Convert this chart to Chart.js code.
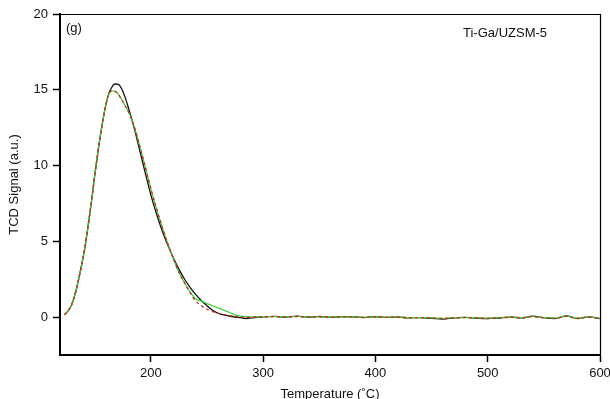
<!DOCTYPE html>
<html>
<head>
<meta charset="utf-8">
<script src="https://cdn.jsdelivr.net/npm/chart.js@4.4.1/dist/chart.umd.min.js"></script>
<style>
  html, body { margin: 0; padding: 0; background: #fff; overflow: hidden; }
  #wrap { width: 610px; height: 399px; position: relative; }
</style>
</head>
<body>
<div id="wrap"><canvas id="c" width="610" height="399"></canvas></div>
<script>
// Temperatures (°C)
const temps = [123,126,129,132,135,138,141,144,147,150,153,156,159,162,165,168,171,174,177,180,185,190,195,200,205,210,215,220,225,230,235,240,245,250,255,260,265,270,275,280,285,290,
  300,310,320,330,340,350,360,370,380,390,400,410,420,430,440,450,460,470,480,490,500,510,520,530,540,550,560,570,580,590,600];

// Measured TCD signal (black)
const measured = [0.15,0.4,0.75,1.4,2.3,3.35,4.5,6.0,7.6,9.4,11.0,12.45,13.7,14.65,15.15,15.38,15.35,15.05,14.5,13.8,12.5,11.0,9.5,8.05,6.8,5.7,4.75,3.9,3.15,2.5,1.95,1.48,1.08,0.75,0.45,0.25,0.15,0.07,0.0,-0.04,-0.09,-0.05,
  0.02,0.05,0.0,0.06,0.0,0.04,-0.02,0.03,0.02,-0.03,0.03,-0.02,0.0,-0.05,-0.03,-0.08,-0.13,-0.05,-0.02,-0.07,-0.1,-0.06,0.0,-0.05,0.06,-0.04,-0.1,0.08,-0.1,0.02,-0.1];

// Fitted envelope (green)
const fitGreen = [0.15,0.4,0.75,1.4,2.3,3.35,4.5,6.0,7.6,9.4,11.0,12.45,13.7,14.6,14.93,14.9,14.7,14.35,13.95,13.55,12.6,11.3,9.9,8.45,7.15,5.95,4.85,3.85,2.95,2.25,1.65,1.2,1.05,0.9,0.75,0.6,0.45,0.3,0.15,0.06,0.03,0.01,
  0.03,0.04,0.02,0.04,0.02,0.03,0.0,0.02,0.01,-0.01,0.02,-0.01,0.0,-0.03,-0.03,-0.05,-0.08,-0.04,-0.02,-0.05,-0.07,-0.04,0.0,-0.03,0.04,-0.03,-0.07,0.06,-0.07,0.01,-0.08];

// Fitted component (red dashed)
const fitRed = [0.15,0.4,0.75,1.4,2.3,3.35,4.5,6.0,7.6,9.4,11.0,12.45,13.7,14.6,14.93,14.9,14.7,14.35,13.95,13.55,12.6,11.3,9.9,8.45,7.15,5.95,4.85,3.85,2.95,2.25,1.6,1.05,0.75,0.52,0.36,0.25,0.17,0.1,0.04,0.0,-0.02,0.0,
  0.02,0.03,0.01,0.04,0.01,0.03,-0.01,0.02,0.01,-0.02,0.02,-0.02,-0.01,-0.04,-0.03,-0.06,-0.09,-0.05,-0.03,-0.06,-0.08,-0.05,-0.01,-0.04,0.03,-0.04,-0.08,0.05,-0.08,0.0,-0.09];

const xTicks = [200,300,400,500,600];
const yTicks = [0,5,10,15,20];
const panelLabel = "(g)";
const sampleLabel = "Ti-Ga/UZSM-5";

const pts = ys => temps.map((t, i) => ({x: t, y: ys[i]}));
const FONT = "'Liberation Sans', Arial, sans-serif";

const framePlugin = {
  id: 'frame',
  afterDatasetsDraw(chart) {
    const {ctx, chartArea: a} = chart;
    ctx.save();
    ctx.strokeStyle = '#000';
    ctx.lineWidth = 1.2;
    ctx.beginPath();
    ctx.moveTo(a.left, a.top + 0.5);
    ctx.lineTo(a.right + 0.5, a.top + 0.5);
    ctx.lineTo(a.right + 0.5, a.bottom);
    ctx.stroke();
    ctx.fillStyle = '#111';
    ctx.font = "13px " + FONT;
    ctx.textBaseline = 'alphabetic';
    ctx.textAlign = 'left';
    ctx.fillText(panelLabel, 66, 32);
    ctx.fillText(sampleLabel, 463, 37);
    ctx.restore();
  }
};

new Chart(document.getElementById('c'), {
  type: 'line',
  data: {
    datasets: [
      { label: 'fit-red', data: pts(fitRed), borderColor: '#c8281e', borderWidth: 1.3, borderDash: [3, 3], order: 0 },
      { label: 'fit-green', data: pts(fitGreen), borderColor: '#3ad43a', borderWidth: 1.2, order: 1 },
      { label: 'measured', data: pts(measured), borderColor: '#111111', borderWidth: 1.3, order: 2 }
    ]
  },
  options: {
    responsive: false,
    animation: false,
    events: [],
    layout: { padding: { left: 7, right: 10, top: 14, bottom: 0 } },
    elements: { point: { radius: 0 }, line: { cubicInterpolationMode: 'monotone', fill: false } },
    plugins: { legend: { display: false }, tooltip: { enabled: false } },
    scales: {
      x: {
        type: 'linear', min: 119, max: 600,
        afterBuildTicks: s => { s.ticks = xTicks.map(v => ({value: v})); },
        afterFit: s => { s.height = 44; s.paddingLeft = 0; s.paddingRight = 0; },
        grid: { drawOnChartArea: false, drawTicks: true, tickLength: 7, tickWidth: 1.5, tickColor: '#000' },
        border: { display: true, color: '#000', width: 2 },
        ticks: { color: '#111', font: { size: 13, family: FONT }, padding: 4, maxRotation: 0, autoSkip: false },
        title: { display: true, text: 'Temperature (˚C)', color: '#111', font: { size: 13, family: FONT }, padding: { top: 0, bottom: -3 } }
      },
      y: {
        type: 'linear', min: -2.5, max: 20,
        afterBuildTicks: s => { s.ticks = yTicks.map(v => ({value: v})); },
        afterFit: s => { s.width = 53; s.paddingTop = 0; s.paddingBottom = 0; },
        grid: { drawOnChartArea: false, drawTicks: true, tickLength: 7, tickWidth: 1.5, tickColor: '#000' },
        border: { display: true, color: '#000', width: 2 },
        ticks: { color: '#111', font: { size: 13, family: FONT }, padding: 5, autoSkip: false },
        title: { display: true, text: 'TCD Signal (a.u.)', color: '#111', font: { size: 13, family: FONT }, padding: { top: 0, bottom: 0 } }
      }
    }
  },
  plugins: [framePlugin]
});
</script>
</body>
</html>
